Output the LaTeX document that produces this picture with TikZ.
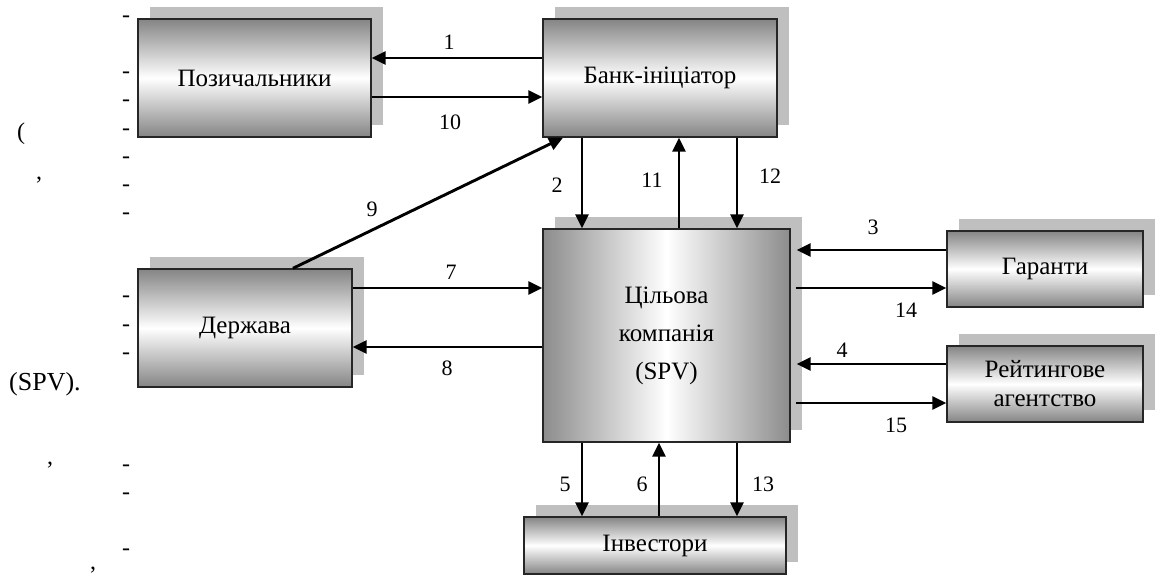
\documentclass[tikz,border=0pt]{standalone}
\usepackage{fontspec}
\setmainfont{Liberation Serif}
\usetikzlibrary{arrows.meta,shadows}
\tikzset{
  boxbase/.style={draw=black!85, line width=1.4pt, inner sep=0pt, align=center,
    font=\fontsize{25}{29}\selectfont,
    general shadow={fill=black!25, shadow xshift=12pt, shadow yshift=12pt}},
  vbox/.style={boxbase, top color=black!48, bottom color=black!48, middle color=white},
  hbox/.style={boxbase, left color=black!45, right color=black!45, middle color=white},
  arr/.style={line width=2.9pt, -{Triangle[length=14pt,width=13pt]}},
  lbl/.style={font=\fontsize{22}{26}\selectfont, inner sep=0pt},
  stray/.style={font=\fontsize{24}{28}\selectfont, inner sep=0pt}
}
\begin{document}
\begin{tikzpicture}[x=1pt,y=-1pt]
\useasboundingbox (0,0) rectangle (1161,575);
% boxes
\node[vbox, minimum width=233pt, minimum height=118pt] (borrow) at (254.5,78) {Позичальники};
\node[vbox, minimum width=234pt, minimum height=118pt] (bank) at (660,78) {Банк-ініціатор};
\node[hbox, minimum width=247pt, minimum height=213pt, font=\fontsize{25}{38}\selectfont] (spv) at (666.5,335.5) {Цільова\\компанія\\(SPV)};
\node[vbox, minimum width=214pt, minimum height=118pt] (state) at (245,328) {Держава};
\node[vbox, minimum width=196pt, minimum height=76pt] (guar) at (1045,269) {Гаранти};
\node[vbox, minimum width=196pt, minimum height=76pt, font=\fontsize{25}{29}\selectfont] (rate) at (1045,384) {Рейтингове\\агентство};
\node[vbox, minimum width=262pt, minimum height=57pt] (inv) at (655,545.5) {Інвестори};
% connectors
\draw[arr] (bank.west |- 0,58) -- (borrow.east |- 0,58);
\draw[arr] (borrow.east |- 0,97) -- (bank.west |- 0,97);
\draw[arr] (state.north -| 293,0) -- (bank.south -| 563,0);
\draw[arr] (bank.south -| 582,0) -- (spv.north -| 582,0);
\draw[arr] (spv.north -| 679,0) -- (bank.south -| 679,0);
\draw[arr] (bank.south -| 737,0) -- (spv.north -| 737,0);
\draw[arr] (state.east |- 0,288) -- (spv.west |- 0,288);
\draw[arr] (spv.west |- 0,347) -- (state.east |- 0,347);
\draw[arr, shorten >=6pt] (guar.west |- 0,250) -- (spv.east |- 0,250);
\draw[arr, shorten <=5pt] (spv.east |- 0,288) -- (guar.west |- 0,288);
\draw[arr, shorten >=6pt] (rate.west |- 0,364) -- (spv.east |- 0,364);
\draw[arr, shorten <=5pt] (spv.east |- 0,403) -- (rate.west |- 0,403);
\draw[arr] (spv.south -| 582,0) -- (inv.north -| 582,0);
\draw[arr] (inv.north -| 659,0) -- (spv.south -| 659,0);
\draw[arr] (spv.south -| 737,0) -- (inv.north -| 737,0);
% labels
\node[lbl] (l1) at (449,42) {1};
\node[lbl] (l10) at (450,122) {10};
\node[lbl] (l9) at (372,209) {9};
\node[lbl] (l2) at (557,185) {2};
\node[lbl] (l11) at (652,180) {11};
\node[lbl] (l12) at (770,176) {12};
\node[lbl] (l7) at (451,272) {7};
\node[lbl] (l8) at (447,368) {8};
\node[lbl] (l3) at (873,227) {3};
\node[lbl] (l14) at (906,310) {14};
\node[lbl] (l4) at (842,350) {4};
\node[lbl] (l15) at (896,425) {15};
\node[lbl] (l5) at (565,484) {5};
\node[lbl] (l6) at (642,484) {6};
\node[lbl] (l13) at (763,484) {13};
% stray marks of the surrounding text
\foreach \yy [count=\i] in {19,75,103,132,160,188,216,299,328,356,468,496,552}
  \node[stray] (d\i) at (126,\yy) {-};
\node[stray] (p1) at (21,134) {(};
\node[stray] (c1) at (39,180) {,};
\node[stray, font=\fontsize{26}{30}\selectfont] (spvtxt) at (45,384) {(SPV).};
\node[stray] (c2) at (50,465) {,};
\node[stray] (c3) at (93,570) {,};
\end{tikzpicture}
\end{document}
